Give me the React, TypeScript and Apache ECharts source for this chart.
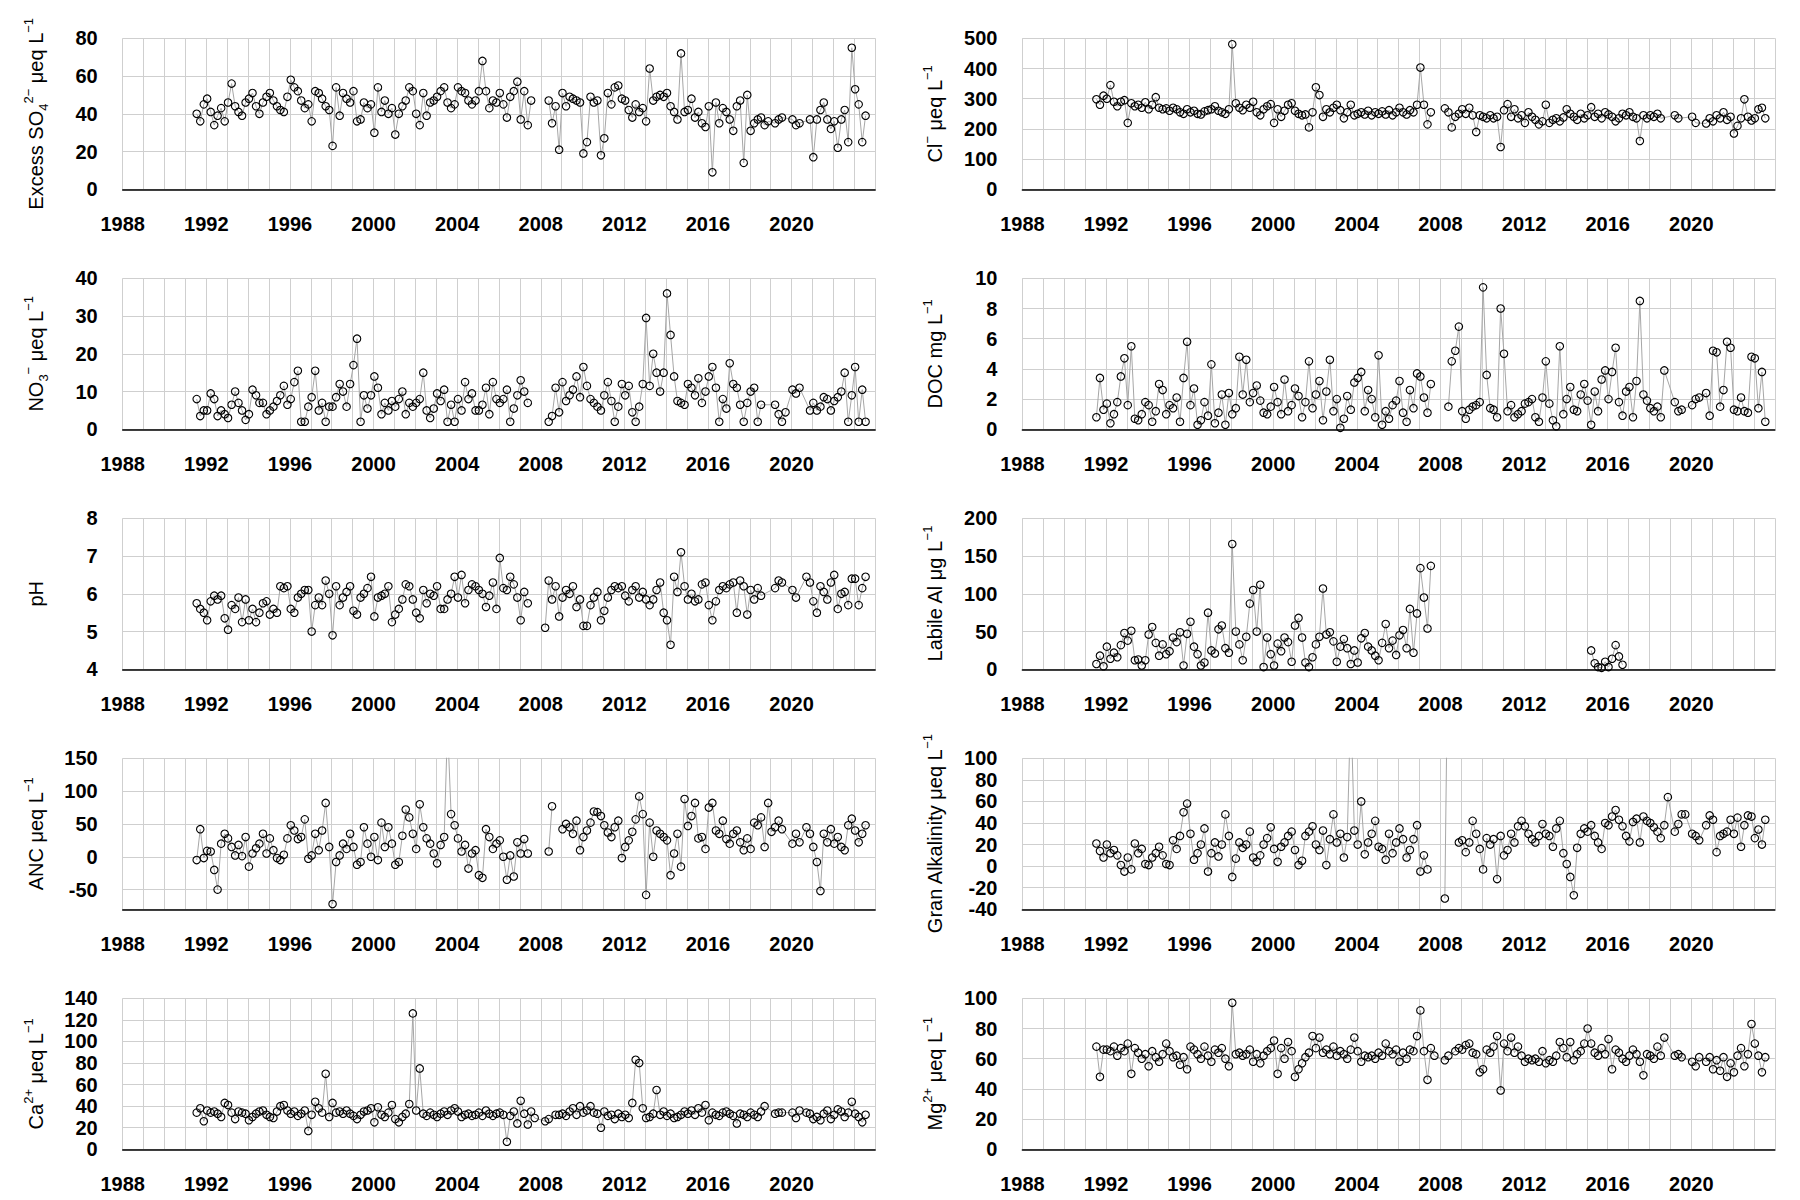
import React, { useEffect, useRef } from "react";
import * as echarts from "echarts";

// Sampling years and within-year sample positions (Jan, Mar, May, Jul, Sep, Nov)
const YEARS = [1991, 1992, 1993, 1994, 1995, 1996, 1997, 1998, 1999, 2000, 2001, 2002, 2003, 2004, 2005, 2006, 2007, 2008, 2009, 2010, 2011, 2012, 2013, 2014, 2015, 2016, 2017, 2018, 2019, 2020, 2021, 2022, 2023];
const SAMPLE_OFFSETS = [0.04, 0.21, 0.38, 0.54, 0.71, 0.88];
const B = "|"; // line break marker (gap in record)
const N = null; // no sample

const X_MIN = 1988;
const X_MAX = 2024;
const X_STEP = 4;

type V = number | null | string;

const SO4: V[][] = [
  [N, N, N, 40, 36, 45],
  [48, 41, 34, 39, 43, 36],
  [46, 56, 44, 41, 39, 46],
  [48, 51, 44, 40, 46, 49],
  [51, 47, 44, 42, 41, 49],
  [58, 54, 52, 47, 43, 45],
  [36, 52, 51, 48, 44, 42],
  [23, 54, 39, 51, 48, 46],
  [52, 36, 37, 46, 43, 45],
  [30, 54, 41, 47, 40, 43],
  [29, 40, 44, 47, 54, 52],
  [40, 34, 51, 39, 46, 47],
  [49, 52, 54, 46, 43, 45],
  [54, 52, 51, 47, 45, 47],
  [52, 68, 52, 43, 47, 46],
  [51, 45, 38, 49, 52, 57],
  [37, 52, 34, 47, B, N],
  [N, N, 47, 35, 44, 21],
  [51, 44, 49, 48, 47, 46],
  [19, 25, 49, 46, 47, 18],
  [27, 51, 45, 54, 55, 48],
  [47, 42, 38, 45, 41, 43],
  [36, 64, 47, 49, 50, 49],
  [51, 44, 41, 37, 72, 41],
  [42, 48, 38, 41, 35, 33],
  [44, 9, 46, 35, 43, 41],
  [37, 31, 44, 47, 14, 50],
  [31, 35, 37, 38, 34, 36],
  [N, 35, 37, 38, N, N],
  [37, 34, 35, N, N, 37],
  [17, 37, 42, 46, 37, 32],
  [36, 22, 37, 42, 25, 75],
  [53, 45, 25, 39, N, N],
];

const CL: V[][] = [
  [N, N, N, 298, 280, 310],
  [300, 345, 290, 275, 290, 295],
  [220, 285, 275, 280, 270, 288],
  [265, 280, 305, 270, 265, 268],
  [260, 270, 265, 255, 250, 265],
  [255, 260, 250, 248, 258, 262],
  [265, 275, 260, 255, 250, 265],
  [480, 285, 270, 262, 280, 270],
  [290, 255, 245, 265, 275, 282],
  [220, 265, 240, 260, 280, 285],
  [260, 250, 245, 248, 205, 255],
  [338, 312, 240, 265, 255, 270],
  [280, 262, 235, 255, 280, 245],
  [250, 255, 248, 260, 245, 255],
  [250, 258, 248, 262, 245, 255],
  [270, 255, 248, 262, 255, 280],
  [403, 280, 215, 255, B, N],
  [N, 268, 255, 205, 240, 250],
  [265, 250, 270, 245, 190, 245],
  [240, 235, 245, 235, 240, 140],
  [262, 282, 240, 265, 235, 245],
  [220, 255, 240, 230, 215, 225],
  [280, 220, 230, 235, 225, 238],
  [265, 250, 240, 230, 250, 235],
  [245, 272, 240, 250, 235, 255],
  [248, 240, 225, 235, 250, 245],
  [255, 240, 235, 160, 245, 235],
  [245, 240, 250, 235, N, N],
  [N, 245, 235, N, N, N],
  [240, 220, N, N, 218, 235],
  [225, 245, 235, 255, 230, 240],
  [185, 210, 235, 298, 240, 228],
  [235, 265, 270, 235, N, N],
];

const NO3: V[][] = [
  [N, N, N, 8, 3.5, 5],
  [5, 9.5, 8, 3.5, 5, 4],
  [3, 6.5, 10, 7, 5, 2.5],
  [4, 10.5, 9, 7, 7, 4],
  [5, 6, 7.5, 9, 11.5, 6.5],
  [8, 12.5, 15.5, 2, 2, 6],
  [8.5, 15.5, 5, 7, 2, 6],
  [6, 8.5, 12, 10, 6, 12],
  [17, 24, 2, 9, 5.5, 9],
  [14, 11, 4, 7, 5, 7.5],
  [6, 8, 10, 4, 7, 6],
  [7, 8, 15, 5, 3, 5.5],
  [9.5, 7.5, 10.5, 2, 6.5, 2],
  [8, 5, 12.5, 8, 9.5, 5],
  [5, 6.5, 11, 4, 12.5, 8],
  [7, 8, 10.5, 2, 5.5, 9],
  [13, 10, 7, B, N, N],
  [N, N, 2, 3.5, 11, 4.5],
  [12.5, 7.5, 9, 10.5, 14, 8.5],
  [16.5, 11.5, 8, 7, 6, 5],
  [9, 12.5, 7.5, 2, 6, 12],
  [9, 11.5, 4.5, 2, 6, 12],
  [29.5, 11.5, 20, 15, 10, 15],
  [36, 25, 14, 7.5, 7, 6.5],
  [12, 11, 9, 13.5, 7, 10],
  [14, 16.5, 11, 2, 8, 5.5],
  [17.5, 12, 11, 6.5, 2, 7],
  [10, 11, 2, 6.5, N, N],
  [N, 6.5, 4, 2, 4.5, N],
  [10.5, 9.5, 11, N, N, 5],
  [7, 5, 6, 8.5, 8, 5],
  [7.5, 8.5, 10, 15, 2, 9],
  [16.5, 2, 10.5, 2, N, N],
];

const DOC: V[][] = [
  [N, N, N, 0.8, 3.4, 1.3],
  [1.7, 0.4, 1.0, 1.8, 3.5, 4.7],
  [1.6, 5.5, 0.7, 0.6, 1.0, 1.8],
  [1.6, 0.5, 1.2, 3.0, 2.6, 1.0],
  [1.6, 1.4, 2.1, 0.5, 3.4, 5.8],
  [1.6, 2.7, 0.3, 0.6, 1.8, 0.9],
  [4.3, 0.4, 1.1, 2.3, 0.3, 2.4],
  [1.0, 1.4, 4.8, 2.3, 4.6, 1.8],
  [2.4, 2.9, 1.9, 1.1, 1.0, 1.5],
  [2.8, 1.8, 1.0, 3.3, 1.2, 1.6],
  [2.7, 2.2, 0.8, 1.8, 4.5, 1.4],
  [2.3, 3.2, 0.6, 2.5, 4.6, 1.2],
  [2.0, 0.1, 0.7, 2.2, 1.3, 3.1],
  [3.4, 3.8, 1.2, 2.6, 2.0, 0.8],
  [4.9, 0.3, 1.2, 0.7, 1.6, 1.9],
  [3.2, 1.1, 0.5, 2.6, 1.4, 3.7],
  [3.5, 2.1, 1.1, 3.0, B, N],
  [N, N, 1.5, 4.5, 5.2, 6.8],
  [1.2, 0.7, 1.3, 1.5, 1.6, 1.8],
  [9.4, 3.6, 1.4, 1.3, 0.8, 8.0],
  [5.0, 1.2, 1.6, 0.8, 1.0, 1.2],
  [1.7, 1.8, 2.0, 0.8, 0.5, 2.1],
  [4.5, 1.7, 0.6, 0.2, 5.5, 1.0],
  [2.0, 2.8, 1.3, 1.2, 2.3, 3.0],
  [1.9, 0.3, 2.5, 1.2, 3.3, 3.9],
  [2.0, 3.8, 5.4, 1.8, 0.9, 2.5],
  [2.8, 0.8, 3.2, 8.5, 2.3, 1.9],
  [1.4, 1.2, 1.5, 0.8, 3.9, N],
  [N, 1.8, 1.2, 1.3, N, N],
  [1.6, 2.0, 2.1, N, 2.4, 0.9],
  [5.2, 5.1, 1.5, 2.6, 5.8, 5.4],
  [1.3, 1.2, 2.1, 1.2, 1.1, 4.8],
  [4.7, 1.4, 3.8, 0.5, N, N],
];

const PH: V[][] = [
  [N, N, N, 5.75, 5.6, 5.5],
  [5.3, 5.8, 5.95, 5.85, 5.95, 5.35],
  [5.05, 5.7, 5.6, 5.9, 5.25, 5.85],
  [5.3, 5.6, 5.25, 5.5, 5.75, 5.8],
  [5.45, 5.6, 5.5, 6.2, 6.15, 6.2],
  [5.6, 5.5, 5.9, 6.0, 6.1, 6.1],
  [5.0, 5.7, 5.9, 5.7, 6.35, 6.0],
  [4.9, 6.2, 5.7, 5.9, 6.05, 6.2],
  [5.55, 5.45, 5.9, 6.0, 6.15, 6.45],
  [5.4, 5.9, 5.95, 6.0, 6.2, 5.25],
  [5.45, 5.6, 5.85, 6.25, 6.2, 5.85],
  [5.5, 5.35, 6.1, 5.75, 6.0, 5.95],
  [6.2, 5.6, 5.6, 5.85, 6.0, 6.45],
  [5.9, 6.5, 5.75, 6.1, 6.25, 6.2],
  [6.1, 6.0, 5.65, 5.95, 6.3, 5.6],
  [6.95, 6.15, 6.1, 6.45, 6.25, 5.9],
  [5.3, 6.05, 5.75, B, N, N],
  [N, 5.1, 6.35, 5.85, 6.2, 5.4],
  [5.9, 6.1, 6.0, 6.2, 5.65, 5.85],
  [5.15, 5.15, 5.7, 5.9, 6.05, 5.3],
  [5.55, 5.9, 6.1, 6.2, 6.15, 6.2],
  [5.95, 5.8, 6.1, 6.2, 5.9, 6.05],
  [5.85, 5.7, 5.85, 6.1, 6.3, 5.5],
  [5.3, 4.65, 6.45, 6.05, 7.1, 6.2],
  [5.85, 6.0, 5.8, 5.85, 6.25, 6.3],
  [5.7, 5.3, 5.8, 6.1, 6.2, 6.15],
  [6.25, 6.3, 5.5, 6.35, 6.2, 5.45],
  [6.1, 5.85, 6.15, 5.95, N, N],
  [N, 6.15, 6.35, 6.3, N, N],
  [6.1, 5.9, N, N, 6.45, 6.3],
  [5.8, 5.5, 6.2, 6.05, 5.85, 6.3],
  [6.5, 5.6, 6.0, 6.05, 5.7, 6.4],
  [6.4, 5.7, 6.15, 6.45, N, N],
];

const LABILE_AL: V[][] = [
  [N, N, N, 7, 18, 4],
  [30, 14, 22, 16, 32, 48],
  [38, 51, 12, 13, 5, 12],
  [46, 56, 35, 18, 33, 20],
  [24, 42, 36, 49, 5, 47],
  [63, 30, 20, 5, 9, 75],
  [25, 21, 53, 58, 28, 22],
  [166, 50, 33, 12, 43, 87],
  [105, 50, 112, 3, 42, 20],
  [5, 34, 24, 42, 36, 10],
  [58, 68, 42, 9, 3, 16],
  [33, 43, 107, 46, 49, 37],
  [10, 30, 40, 28, 7, 25],
  [9, 41, 48, 30, 25, 18],
  [12, 35, 60, 28, 38, 19],
  [45, 52, 28, 80, 22, 74],
  [134, 95, 54, 137, B, N],
  [N, N, N, N, N, N],
  [N, N, N, N, N, N],
  [N, N, N, N, N, N],
  [N, N, N, N, N, N],
  [N, N, N, N, N, N],
  [N, N, N, N, N, N],
  [N, N, N, N, N, N],
  [N, 25, 8, 3, 2, 10],
  [3, 14, 32, 17, 6, N],
  [N, N, N, N, N, N],
  [N, N, N, N, N, N],
  [N, N, N, N, N, N],
  [N, N, N, N, N, N],
  [N, N, N, N, N, N],
  [N, N, N, N, N, N],
  [N, N, N, N, N, N],
];

const ANC: V[][] = [
  [N, N, N, -5, 42, -2],
  [9, 8, -20, -50, 20, 35],
  [28, 15, 2, 18, 1, 30],
  [-15, 5, 13, 20, 35, 5],
  [28, 10, -2, -5, 3, 28],
  [48, 40, 27, 30, 57, -3],
  [2, 35, 10, 40, 82, 15],
  [-72, -8, 2, 20, 12, 35],
  [15, -12, -8, 45, 20, 0],
  [30, -5, 52, 15, 45, 20],
  [-12, -8, 32, 72, 60, 35],
  [12, 80, 45, 28, 20, 5],
  [-10, 18, 30, 200, 65, 48],
  [28, 8, 18, -18, 5, 10],
  [-28, -32, 42, 30, 12, 20],
  [25, 0, -35, 2, -30, 22],
  [5, 27, 5, B, N, N],
  [N, N, 8, 77, B, N],
  [42, 50, 45, 35, 55, 10],
  [30, 40, 52, 69, 68, 62],
  [48, 37, 30, 45, 55, -2],
  [15, 25, 38, 57, 92, 65],
  [-58, 52, 0, 40, 35, 30],
  [25, -28, 5, 35, -15, 88],
  [47, 62, 82, 28, 30, 12],
  [75, 82, 40, 35, 55, 27],
  [20, 35, 40, 22, 10, 28],
  [12, 52, 48, 60, 15, 82],
  [38, 45, 55, 42, N, N],
  [20, 35, 22, N, 45, 35],
  [15, -8, -52, 35, 22, 42],
  [20, 30, 15, 10, 48, 58],
  [40, 22, 35, 48, N, N],
];

const GRAN_ALK: V[][] = [
  [N, N, N, 21, 14, 8],
  [20, 12, 15, 10, 1, -5],
  [8, -3, 21, 12, 16, 2],
  [1, 8, 12, 18, 10, 2],
  [1, 24, 16, 28, 50, 58],
  [30, 6, 12, 20, 35, -5],
  [12, 22, 9, 20, 48, 28],
  [-10, 7, 22, 17, 20, 32],
  [8, 4, 10, 20, 26, 36],
  [16, 4, 18, 22, 28, 32],
  [15, 1, 5, 28, 32, 37],
  [20, 15, 33, 1, 25, 48],
  [22, 30, 8, 27, 150, 33],
  [20, 60, 11, 22, 30, 42],
  [18, 16, 6, 30, 12, 22],
  [35, 25, 8, 15, 25, 38],
  [-5, 10, -3, B, N, N],
  [N, -30, 250, B, N, 22],
  [24, 13, 22, 42, 30, 16],
  [-3, 26, 20, 25, -12, 28],
  [10, 15, 30, 22, 37, 42],
  [37, 30, 25, 22, 28, 39],
  [30, 28, 18, 35, 42, 12],
  [2, -10, -27, 17, 30, 35],
  [32, 38, 28, 22, 16, 40],
  [38, 46, 52, 43, 37, 28],
  [23, 41, 44, 22, 46, 42],
  [40, 36, 32, 26, 38, 64],
  [N, 32, 39, 48, 48, N],
  [30, 28, 24, N, 38, 47],
  [43, 13, 28, 30, 32, 43],
  [30, 45, 18, 38, 47, 46],
  [26, 34, 20, 43, N, N],
];

const CA: V[][] = [
  [N, N, N, 34, 38, 26],
  [36, 34, 35, 33, 30, 43],
  [41, 34, 28, 35, 34, 33],
  [27, 30, 33, 35, 36, 32],
  [30, 29, 35, 40, 41, 36],
  [33, 35, 31, 33, 36, 17],
  [32, 44, 38, 34, 70, 30],
  [43, 34, 35, 33, 36, 33],
  [31, 28, 32, 35, 36, 38],
  [25, 39, 32, 30, 34, 41],
  [28, 25, 30, 33, 42, 126],
  [36, 75, 33, 31, 34, 32],
  [30, 33, 35, 32, 36, 38],
  [35, 30, 32, 33, 31, 32],
  [34, 31, 36, 33, 31, 33],
  [34, 32, 7, 31, 35, 24],
  [45, 33, 23, 35, 29, N],
  [N, 26, 28, N, 32, 32],
  [33, 31, 35, 38, 32, 40],
  [34, 36, 40, 34, 33, 20],
  [35, 31, 32, 28, 33, 30],
  [32, 29, 43, 83, 80, 38],
  [29, 30, 33, 55, 32, 35],
  [31, 33, 29, 30, 32, 35],
  [33, 36, 32, 38, 34, 41],
  [27, 34, 32, 31, 34, 35],
  [33, 31, 24, 33, 32, 30],
  [34, 32, 30, 35, 40, N],
  [N, 33, 34, 34, N, N],
  [34, 29, 36, N, 34, 33],
  [28, 30, 27, 33, 36, 28],
  [32, 37, 35, 30, 34, 44],
  [33, 30, 25, 32, N, N],
];

const MG: V[][] = [
  [N, N, N, 68, 48, 66],
  [66, 65, 68, 62, 67, 65],
  [70, 50, 67, 64, 60, 63],
  [55, 65, 61, 58, 63, 70],
  [65, 61, 62, 56, 61, 53],
  [68, 66, 63, 60, 68, 62],
  [58, 66, 64, 67, 60, 55],
  [97, 63, 64, 62, 63, 66],
  [58, 63, 57, 62, 65, 67],
  [72, 50, 67, 60, 71, 65],
  [48, 53, 57, 61, 64, 75],
  [67, 74, 64, 66, 63, 68],
  [62, 65, 63, 60, 66, 74],
  [65, 58, 62, 61, 62, 60],
  [64, 62, 70, 65, 63, 66],
  [58, 64, 60, 66, 65, 75],
  [92, 65, 46, 67, 62, N],
  [N, 59, 62, N, 65, 67],
  [66, 69, 70, 64, 63, 51],
  [53, 66, 64, 68, 75, 39],
  [70, 65, 74, 64, 68, 62],
  [58, 60, 59, 60, 58, 65],
  [57, 59, 58, 62, 71, 67],
  [61, 71, 59, 63, 65, 70],
  [80, 70, 64, 62, 67, 63],
  [73, 53, 66, 64, 60, 58],
  [62, 66, 63, 58, 49, 63],
  [62, 60, 68, 62, 74, N],
  [N, 62, 63, 61, N, N],
  [58, 55, 61, N, 58, 61],
  [53, 59, 52, 61, 48, 57],
  [51, 62, 67, 55, 63, 83],
  [70, 62, 51, 61, N, N],
];

// Panel definitions (left column, right column, row by row)
const PANELS = [
  { title: "Excess SO{sub|4}{sup|2−} μeq L{sup|−1}", rows: SO4, min: 0, max: 80, interval: 20 },
  { title: "Cl{sup|−} μeq L{sup|−1}", rows: CL, min: 0, max: 500, interval: 100 },
  { title: "NO{sub|3}{sup|−} μeq L{sup|−1}", rows: NO3, min: 0, max: 40, interval: 10 },
  { title: "DOC mg L{sup|−1}", rows: DOC, min: 0, max: 10, interval: 2 },
  { title: "pH", rows: PH, min: 4, max: 8, interval: 1 },
  { title: "Labile Al μg L{sup|−1}", rows: LABILE_AL, min: 0, max: 200, interval: 50 },
  { title: "ANC μeq L{sup|−1}", rows: ANC, min: -80, max: 150, interval: null as number | null },
  { title: "Gran Alkalinity μeq L{sup|−1}", rows: GRAN_ALK, min: -40, max: 100, interval: 20 },
  { title: "Ca{sup|2+} μeq L{sup|−1}", rows: CA, min: 0, max: 140, interval: 20 },
  { title: "Mg{sup|2+} μeq L{sup|−1}", rows: MG, min: 0, max: 100, interval: 20 },
];

const FONT = "'Liberation Sans', Arial, Helvetica, sans-serif";
const GRID_COLOR = "#cfcfcf";

function toSeriesData(rows: V[][]) {
  const out: (number | null)[][] = [];
  rows.forEach((row, r) => {
    row.forEach((v, j) => {
      if (v === null) return;
      const d = YEARS[r] + SAMPLE_OFFSETS[j];
      out.push([d, v === B ? null : (v as number)]);
    });
  });
  return out;
}

function buildOption() {
  const grids: any[] = [];
  const xAxes: any[] = [];
  const yAxes: any[] = [];
  const series: any[] = [];

  PANELS.forEach((p, i) => {
    const col = i % 2;
    const row = Math.floor(i / 2);
    grids.push({
      left: col === 0 ? 122.7 : 1022.4,
      top: 38.3 + row * 240,
      width: 752.5,
      height: 151,
      containLabel: false,
    });
    xAxes.push({
      gridIndex: i,
      type: "value",
      min: X_MIN,
      max: X_MAX,
      interval: X_STEP,
      axisLine: { show: true, onZero: false, lineStyle: { color: "#000", width: 1.5 } },
      axisTick: { show: false },
      axisLabel: {
        fontSize: 20,
        fontWeight: "bold",
        color: "#000",
        fontFamily: FONT,
        margin: 25,
        showMaxLabel: false,
        formatter: (v: number) => (v === X_MAX ? "" : String(v)),
      },
      splitLine: { show: true, lineStyle: { color: GRID_COLOR, width: 1 } },
      minorTick: { show: false, splitNumber: 4 },
      minorSplitLine: { show: true, lineStyle: { color: GRID_COLOR, width: 1 } },
    });
    const y: any = {
      gridIndex: i,
      type: "value",
      min: p.min,
      max: p.max,
      name: p.title,
      nameLocation: "middle",
      nameGap: 73,
      nameRotate: 90,
      nameTextStyle: {
        fontSize: 20,
        fontFamily: FONT,
        color: "#000",
        lineHeight: 28,
        rich: {
          sup: { fontSize: 13, lineHeight: 16, verticalAlign: "top", fontFamily: FONT, color: "#000" },
          sub: { fontSize: 13, lineHeight: 20, verticalAlign: "bottom", fontFamily: FONT, color: "#000" },
        },
      },
      axisLine: { show: false },
      axisTick: { show: false },
      axisLabel: {
        fontSize: 20,
        fontWeight: "bold",
        color: "#000",
        fontFamily: FONT,
        margin: 25,
        formatter: (v: number) => (v < p.min + 1e-9 && p.interval === null ? "" : String(v)),
      },
      splitLine: { show: true, lineStyle: { color: GRID_COLOR, width: 1 } },
    };
    if (p.interval !== null) y.interval = p.interval;
    else y.splitNumber = 5;
    yAxes.push(y);
    series.push({
      type: "line",
      xAxisIndex: i,
      yAxisIndex: i,
      data: toSeriesData(p.rows),
      symbol: "circle",
      symbolSize: 7.5,
      showAllSymbol: true,
      connectNulls: false,
      clip: true,
      silent: true,
      lineStyle: { color: "#a6a6a6", width: 1 },
      itemStyle: { color: "rgba(255,255,255,0)", borderColor: "#000", borderWidth: 1.1 },
      emphasis: { disabled: true },
    });
  });

  return {
    animation: false,
    backgroundColor: "#fff",
    grid: grids,
    xAxis: xAxes,
    yAxis: yAxes,
    series,
  };
}

export default function App() {
  const ref = useRef<HTMLDivElement>(null);
  useEffect(() => {
    document.body.style.margin = "0";
    const chart = echarts.init(ref.current as HTMLDivElement, null, { renderer: "svg" });
    chart.setOption(buildOption() as any);
    return () => chart.dispose();
  }, []);
  return <div ref={ref} style={{ width: 1800, height: 1200, background: "#fff" }} />;
}
